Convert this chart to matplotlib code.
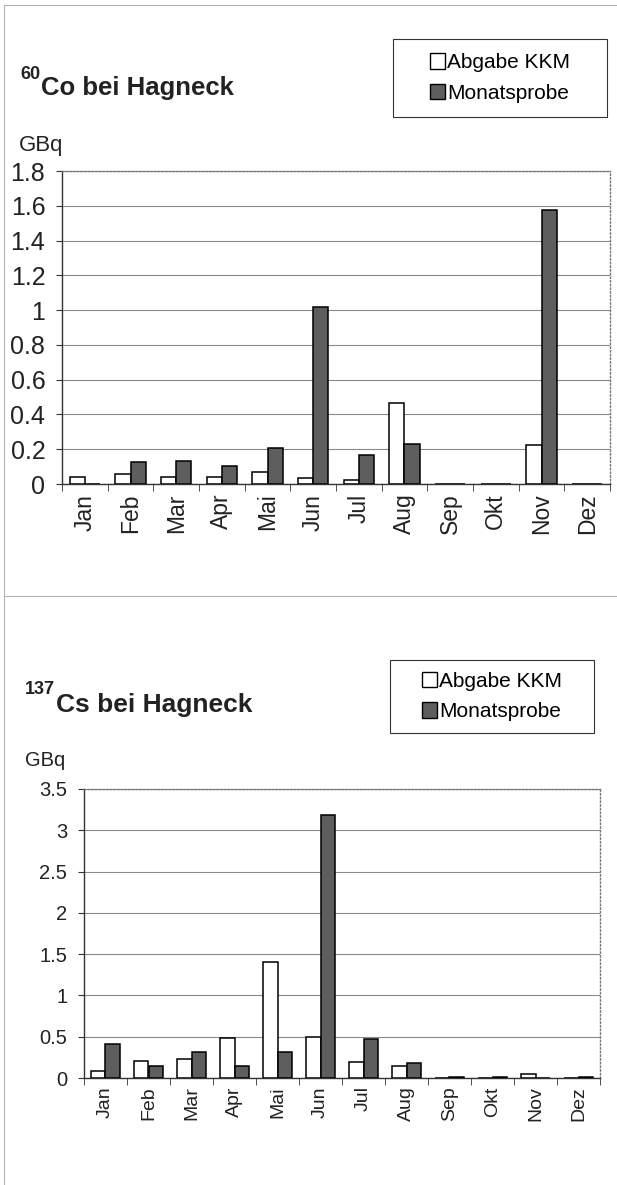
# Monatliche Abgaben KKM vs. Monatsproben bei Hagneck (60Co und 137Cs)
import numpy as np
import matplotlib.pyplot as plt
from matplotlib.patches import Rectangle, Patch
from matplotlib.lines import Line2D

plt.rcParams['font.family'] = ['Liberation Sans', 'DejaVu Sans']

# --- data ---
months = ['Jan', 'Feb', 'Mar', 'Apr', 'Mai', 'Jun', 'Jul', 'Aug', 'Sep', 'Okt', 'Nov', 'Dez']
series_names = ['Abgabe KKM', 'Monatsprobe']

co_abgabe = [0.042, 0.058, 0.042, 0.042, 0.067, 0.035, 0.023, 0.464, 0, 0, 0.226, 0]
co_monat = [0, 0.129, 0.134, 0.106, 0.205, 1.02, 0.169, 0.23, 0, 0, 1.577, 0]
co_ticks = [0, 0.2, 0.4, 0.6, 0.8, 1.0, 1.2, 1.4, 1.6, 1.8]

cs_abgabe = [0.09, 0.21, 0.23, 0.49, 1.40, 0.50, 0.19, 0.15, 0, 0, 0.05, 0]
cs_monat = [0.41, 0.15, 0.31, 0.15, 0.31, 3.19, 0.47, 0.18, 0.01, 0.01, 0, 0.01]
cs_ticks = [0, 0.5, 1.0, 1.5, 2.0, 2.5, 3.0, 3.5]

W, H = 617, 1185
DARK = '#5e5e5e'


def fx(px):
    return px / W


def fy(py):
    return 1 - py / H


def draw_panel(ax, abgabe, monat, ticks, fs_y, fs_x, xpad):
    x = np.arange(len(months))
    w = 0.33
    ax.bar(x - w / 2, abgabe, w, color='white', edgecolor='black', linewidth=1.1, zorder=3)
    ax.bar(x + w / 2, monat, w, color=DARK, edgecolor='black', linewidth=1.1, zorder=3)

    ax.set_xlim(-0.5, len(months) - 0.5)
    ax.set_ylim(ticks[0], ticks[-1])
    ax.set_yticks(ticks)
    ax.set_yticklabels(['%g' % t for t in ticks], fontsize=fs_y, color='#222222')
    ax.set_xticks(x)
    ax.set_xticklabels(months, rotation=90, fontsize=fs_x, color='#222222')
    ax.set_xticks(np.arange(-0.5, len(months), 1), minor=True)
    ax.tick_params(axis='x', which='major', length=0, pad=xpad)
    ax.tick_params(axis='x', which='minor', length=5, direction='out', color='#333333')
    ax.tick_params(axis='y', length=4, direction='out', color='#333333', pad=8)

    ax.yaxis.grid(True, color='#8a8a8a', linewidth=0.8)
    ax.set_axisbelow(True)
    for s in ['top', 'right']:
        ax.spines[s].set_linestyle(':')
        ax.spines[s].set_color('#777777')
        ax.spines[s].set_linewidth(1.0)
    for s in ['left', 'bottom']:
        ax.spines[s].set_color('#333333')
        ax.spines[s].set_linewidth(1.0)


def draw_legend(fig, x0, y0, x1, y1, fs):
    fig.add_artist(Rectangle((fx(x0), fy(y1)), (x1 - x0) / W, (y1 - y0) / H,
                             transform=fig.transFigure, fill=False,
                             edgecolor='#333333', linewidth=0.8))
    handles = [Patch(facecolor='white', edgecolor='black', linewidth=1.0),
               Patch(facecolor=DARK, edgecolor='black', linewidth=1.0)]
    fig.legend(handles, series_names, loc='center',
               bbox_to_anchor=(fx((x0 + x1) / 2), fy((y0 + y1) / 2)),
               frameon=False, fontsize=fs, handlelength=0.75, handleheight=0.75,
               handletextpad=0.1, labelspacing=0.55, borderpad=0)


fig = plt.figure(figsize=(W / 100, H / 100), dpi=100)

# outer frame lines of the page
for xs, ys in [([4, 4], [5, H]), ([4, W], [5, 5]), ([4, W], [596, 596])]:
    fig.add_artist(Line2D([fx(v) for v in xs], [fy(v) for v in ys],
                          transform=fig.transFigure, color='#b5b5b5', linewidth=0.8))

# --- top panel: 60Co ---
ax1 = fig.add_axes([fx(62), fy(484), (610 - 62) / W, (484 - 171) / H])
draw_panel(ax1, co_abgabe, co_monat, co_ticks, fs_y=18, fs_x=16.5, xpad=7)
fig.text(fx(20), fy(79), '60', fontsize=13, fontweight='bold', color='#222222', va='baseline')
fig.text(fx(41), fy(95), 'Co bei Hagneck', fontsize=18.5, fontweight='bold', color='#222222', va='baseline')
fig.text(fx(19), fy(146), 'GBq', fontsize=16, color='#222222', va='center')
draw_legend(fig, 393, 39, 607, 117, 15)

# --- bottom panel: 137Cs ---
ax2 = fig.add_axes([fx(84), fy(1078), (600 - 84) / W, (1078 - 789) / H])
draw_panel(ax2, cs_abgabe, cs_monat, cs_ticks, fs_y=14.5, fs_x=14, xpad=6)
fig.text(fx(25), fy(694), '137', fontsize=13, fontweight='bold', color='#222222', va='baseline')
fig.text(fx(56), fy(712), 'Cs bei Hagneck', fontsize=19, fontweight='bold', color='#222222', va='baseline')
fig.text(fx(25), fy(760), 'GBq', fontsize=14.5, color='#222222', va='center')
draw_legend(fig, 390, 660, 594, 733, 15)

fig.savefig('out.png', dpi=100)
